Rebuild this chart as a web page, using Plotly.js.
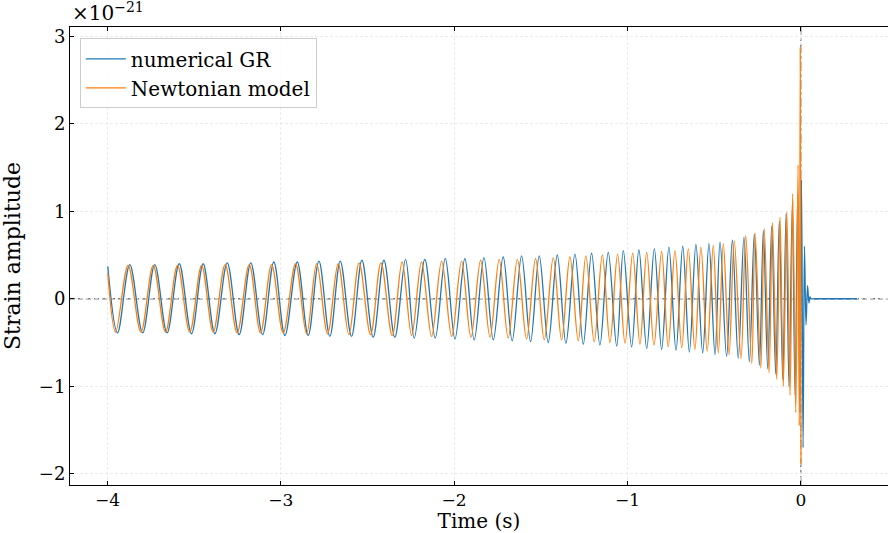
<!DOCTYPE html>
<html>
<head>
<meta charset="utf-8">
<script src="https://cdn.plot.ly/plotly-3.0.1.min.js"></script>
<style>html,body{margin:0;padding:0;background:#fff;}#chart{width:888px;height:533px;}</style>
</head>
<body>
<div id="chart"></div>
<script>
// Strain values are in units of 1e-21
const grTime = [-3.998,-3.942,-3.871,-3.797,-3.727,-3.656,-3.586,-3.515,-3.448,-3.380,-3.309,-3.240,-3.173,-3.105,-3.040,-2.976,-2.905,-2.842,-2.780,-2.717,-2.657,-2.592,-2.532,-2.467,-2.405,-2.342,-2.280,-2.230,-2.169,-2.109,-2.051,-1.995,-1.938,-1.884,-1.828,-1.774,-1.717,-1.665,-1.611,-1.559,-1.509,-1.457,-1.405,-1.355,-1.303,-1.255,-1.207,-1.159,-1.111,-1.062,-1.024,-0.976,-0.934,-0.889,-0.845,-0.803,-0.761,-0.720,-0.681,-0.643,-0.605,-0.566,-0.530,-0.495,-0.466,-0.428,-0.395,-0.361,-0.328,-0.297,-0.268,-0.239,-0.216,-0.191,-0.168,-0.145,-0.124,-0.104,-0.085,-0.068,-0.049,-0.033,-0.018,-0.005,0.004,0.013,0.021,0.030,0.039,0.047,0.053,0.060,0.080,0.120,0.200,0.260,0.324];
const grStrain = [0.37,-0.39,0.39,-0.39,0.39,-0.39,0.40,-0.40,0.40,-0.40,0.41,-0.41,0.41,-0.41,0.42,-0.42,0.42,-0.42,0.43,-0.43,0.43,-0.43,0.44,-0.44,0.44,-0.44,0.45,-0.45,0.45,-0.45,0.46,-0.46,0.46,-0.47,0.47,-0.47,0.48,-0.48,0.49,-0.49,0.49,-0.50,0.50,-0.51,0.51,-0.52,0.52,-0.53,0.53,-0.54,0.55,-0.55,0.56,-0.57,0.57,-0.58,0.59,-0.59,0.60,-0.61,0.62,-0.62,0.63,-0.64,0.65,-0.66,0.67,-0.68,0.70,-0.72,0.74,-0.76,0.78,-0.80,0.83,-0.86,0.89,-0.92,0.97,-1.00,1.06,-1.10,1.20,-1.30,1.36,-1.70,0.60,-0.30,0.15,-0.05,0.02,0.0,0.0,0.0,0.0,0.0,0.0];

const nwTime = [-3.998,-3.953,-3.881,-3.807,-3.736,-3.665,-3.596,-3.525,-3.457,-3.390,-3.321,-3.252,-3.182,-3.117,-3.053,-2.986,-2.915,-2.851,-2.793,-2.730,-2.669,-2.607,-2.548,-2.482,-2.422,-2.357,-2.300,-2.245,-2.188,-2.130,-2.072,-2.014,-1.957,-1.903,-1.847,-1.793,-1.740,-1.688,-1.635,-1.582,-1.530,-1.480,-1.428,-1.380,-1.332,-1.284,-1.240,-1.192,-1.145,-1.101,-1.057,-1.014,-0.970,-0.928,-0.889,-0.847,-0.803,-0.765,-0.726,-0.687,-0.649,-0.611,-0.576,-0.540,-0.505,-0.476,-0.447,-0.414,-0.384,-0.345,-0.318,-0.283,-0.264,-0.231,-0.211,-0.183,-0.164,-0.139,-0.120,-0.101,-0.081,-0.062,-0.047,-0.029,-0.016,-0.009,-0.003,0.001];
const nwStrain = [0.29,-0.38,0.38,-0.38,0.38,-0.38,0.38,-0.38,0.38,-0.38,0.39,-0.39,0.39,-0.39,0.39,-0.39,0.40,-0.40,0.40,-0.40,0.40,-0.41,0.41,-0.41,0.41,-0.42,0.42,-0.42,0.42,-0.43,0.43,-0.43,0.43,-0.44,0.44,-0.44,0.45,-0.45,0.45,-0.46,0.46,-0.47,0.47,-0.47,0.48,-0.48,0.49,-0.49,0.50,-0.50,0.51,-0.51,0.52,-0.52,0.53,-0.53,0.54,-0.55,0.55,-0.56,0.57,-0.58,0.59,-0.60,0.61,-0.62,0.63,-0.64,0.66,-0.68,0.72,-0.74,0.75,-0.79,0.80,-0.85,0.87,-0.92,0.93,-1.00,0.99,-1.10,1.20,-1.30,1.53,-1.45,2.87,-1.89];

const xTicks = [-4,-3,-2,-1,0];
const yTicks = [-2,-1,0,1,2,3];
const tickText = v => (v < 0 ? '\u2212' + Math.abs(v) : String(v));

const FONT = 'DejaVu Serif, serif';
const traces = [
  {x: grTime, y: grStrain, type: 'scatter', mode: 'lines', name: 'numerical GR',
   line: {color: '#1f77b4', width: 1.3, shape: 'spline', smoothing: 1}},
  {x: nwTime, y: nwStrain, type: 'scatter', mode: 'lines', name: 'Newtonian model',
   line: {color: '#ff7f0e', width: 1.3, shape: 'spline', smoothing: 1}}
];

const axisCommon = {
  showline: true, linecolor: '#000', linewidth: 1,
  ticks: 'inside', ticklen: 4, tickwidth: 1, tickcolor: '#000',
  showgrid: true, gridcolor: '#e6e6e6', griddash: '3px,2px', gridwidth: 0.8,
  zeroline: false, tickfont: {family: FONT, size: 17, color: '#000'}
};

const layout = {
  width: 888, height: 533,
  margin: {l: 70, r: 0, t: 27, b: 48},
  paper_bgcolor: '#fff', plot_bgcolor: '#fff',
  font: {family: FONT, color: '#000'},
  showlegend: true,
  legend: {x: 0.012, y: 0.975, xanchor: 'left', yanchor: 'top',
    bgcolor: 'rgba(255,255,255,0.85)', bordercolor: '#cccccc', borderwidth: 1,
    itemwidth: 40,
    font: {family: FONT, size: 20, color: '#000'}, tracegroupgap: 0},
  xaxis: Object.assign({}, axisCommon, {
    range: [-4.216, 0.503], tickvals: xTicks, ticktext: xTicks.map(tickText),
    mirror: 'ticks',
    title: {text: 'Time (s)', font: {family: FONT, size: 20, color: '#000'}, standoff: 6}
  }),
  yaxis: Object.assign({}, axisCommon, {
    range: [-2.128, 3.105], tickvals: yTicks, ticktext: yTicks.map(tickText),
    tickfont: {family: FONT, size: 18, color: '#000'},
    title: {text: 'Strain amplitude', font: {family: FONT, size: 22, color: '#000'}, standoff: 12}
  }),
  shapes: [
    {type: 'line', xref: 'paper', yref: 'y', x0: 0, x1: 1, y0: 0, y1: 0,
     line: {color: '#808080', width: 1.5, dash: '5px,3px'}, layer: 'below'},
    {type: 'line', xref: 'x', yref: 'paper', x0: 0, x1: 0, y0: 0, y1: 1,
     line: {color: '#808080', width: 1.3, dash: 'dashdot'}, layer: 'below'}
  ],
  annotations: [
    {xref: 'paper', yref: 'paper', x: 0, y: 1, xanchor: 'left', yanchor: 'bottom',
     yshift: 0, showarrow: false, text: '\u00d710<sup>\u221221</sup>',
     font: {family: FONT, size: 20, color: '#000'}}
  ]
};

Plotly.newPlot('chart', traces, layout, {displayModeBar: false, staticPlot: true});
</script>
</body>
</html>
